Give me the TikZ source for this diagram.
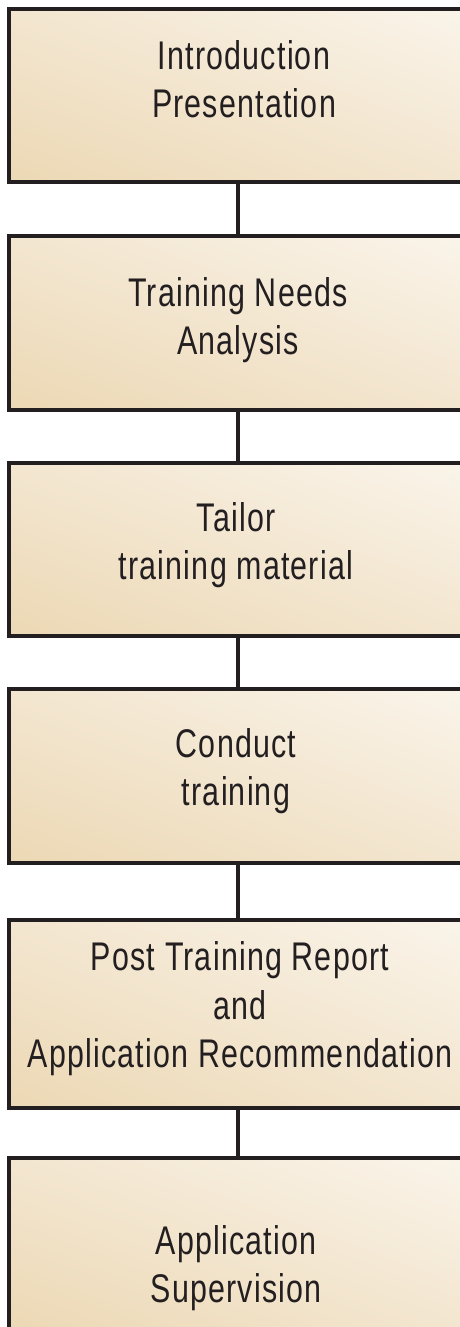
\documentclass[tikz,border=0pt]{standalone}
\usepackage{fontspec}
\usetikzlibrary{shadings}
\setmainfont[FakeStretch=0.76,LetterSpace=3]{Liberation Sans}
\definecolor{ink}{HTML}{231F20}
\definecolor{sandlow}{HTML}{ECD8B4}
\definecolor{sandmid}{HTML}{F3E6D0}
\definecolor{sandhigh}{HTML}{FAF4EA}
\begin{document}
\begin{tikzpicture}[x=1pt,y=-1pt,
  stepbox/.style={rectangle, draw=ink, line width=4pt, minimum width=458pt,
    inner sep=0pt, anchor=north west,
    lower left=sandlow, upper right=sandhigh, upper left=sandmid, lower right=sandmid},
  steptext/.style={align=center, text=ink, font=\fontsize{40}{48.5}\selectfont},
  link/.style={draw=ink, line width=4pt}]
\useasboundingbox (0,0) rectangle (459,1327);
% boxes (border centre lines)
\node[stepbox, minimum height=173pt]   (b1) at (7,7) {};
\node[stepbox, minimum height=173.5pt] (b2) at (7,234) {};
\node[stepbox, minimum height=173.5pt] (b3) at (7,460.5) {};
\node[stepbox, minimum height=173.5pt] (b4) at (7,687) {};
\node[stepbox, minimum height=188pt]   (b5) at (7,918) {};
\node[stepbox, minimum height=173pt]   (b6) at (7,1156) {};
% labels
\node[steptext] (t1) at (244,79)  {Introduction\\Presentation};
\node[steptext] (t2) at (238,320) {Training Needs\\Analysis};
\node[steptext] (t3) at (236,545) {Tailor\\training material};
\node[steptext] (t4) at (236,771) {Conduct\\training};
\node[steptext] (t5) at (240,1009) {Post Training Report\\and\\Application Recommendation};
\node[steptext] (t6) at (236,1268) {Application\\Supervision};
% connectors
\draw[link] (b1.south) -- (b2.north);
\draw[link] (b2.south) -- (b3.north);
\draw[link] (b3.south) -- (b4.north);
\draw[link] (b4.south) -- (b5.north);
\draw[link] (b5.south) -- (b6.north);
\end{tikzpicture}
\end{document}
